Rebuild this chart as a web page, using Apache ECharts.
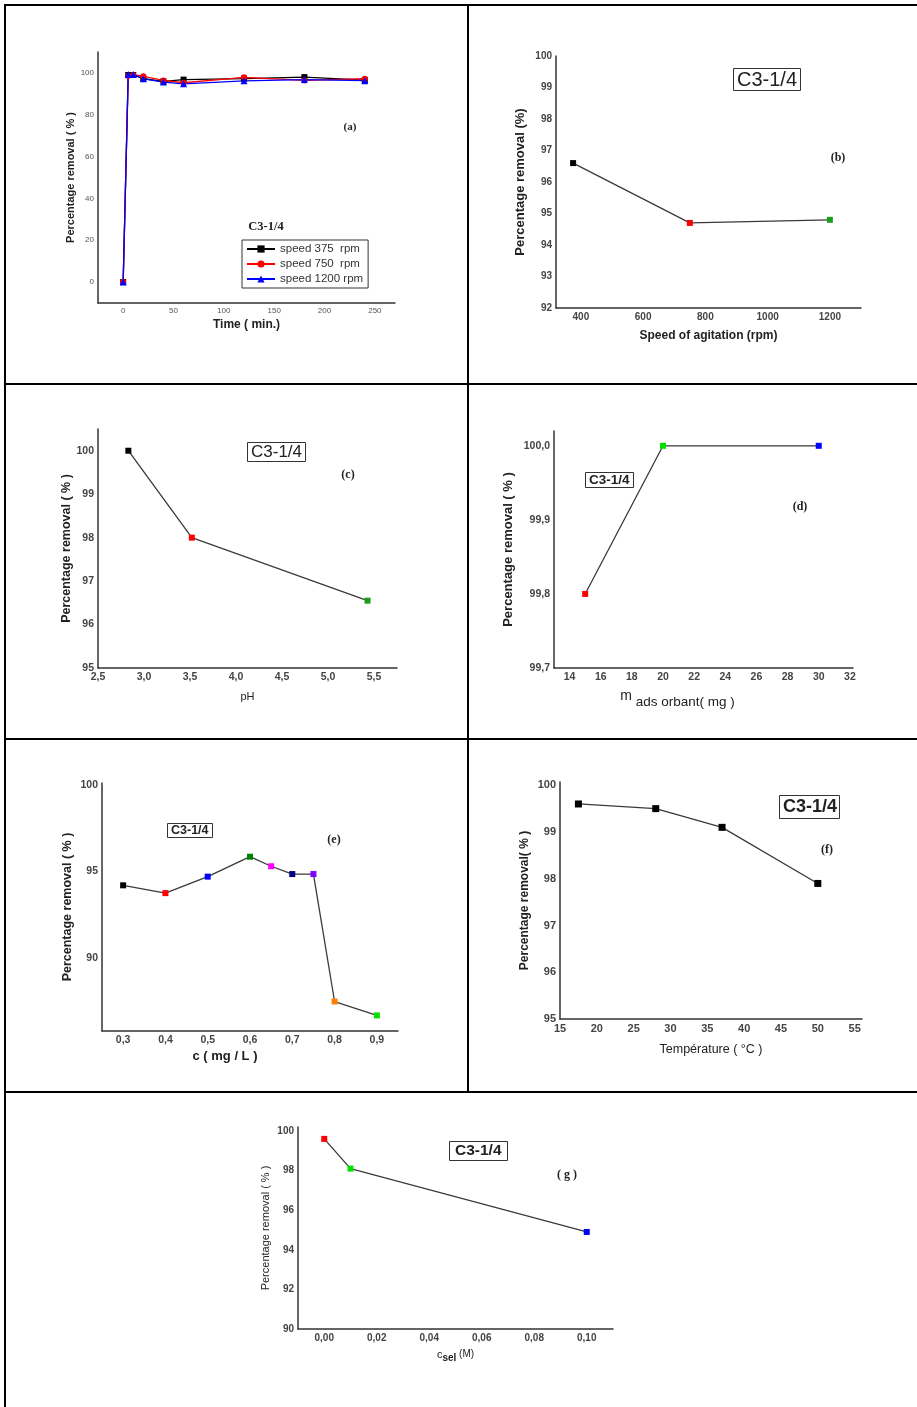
<!DOCTYPE html>
<html>
<head>
<meta charset="utf-8">
<script src="https://cdn.jsdelivr.net/npm/echarts@6/dist/echarts.min.js"></script>
<style>
  html, body { margin: 0; padding: 0; background: #fff; }
  #chart { width: 917px; height: 1407px; }
</style>
</head>
<body>
<div id="chart"></div>
<script>
// ---------- DATA ----------
// (a) contact time
const timeMin = [0, 5, 10, 20, 40, 60, 120, 180, 240];
const removal375 = [0, 99, 99, 97.3, 96, 96.8, 97.3, 98, 96.6];
const removal750 = [0, 98.5, 99, 98.4, 96.4, 95.3, 97.9, 96.4, 97.2];
const removal1200 = [0, 99.3, 99.3, 97.2, 95.6, 94.8, 96.2, 96.8, 96.3];
const speedLabels = ['speed 375  rpm', 'speed 750  rpm', 'speed 1200 rpm'];
// (b) agitation speed
const agitationRpm = [375, 750, 1200];
const removalB = [96.6, 94.7, 94.8];
// (c) pH
const phValues = [2.83, 3.52, 5.43];
const removalC = [100.0, 98.0, 96.55];
// (d) adsorbent mass
const adsorbentMg = [15, 20, 30];
const removalD = [99.8, 100.0, 100.0];
// (e) concentration
const concMgL = [0.3, 0.4, 0.5, 0.6, 0.65, 0.7, 0.75, 0.8, 0.9];
const removalE = [94.2, 93.75, 94.7, 95.85, 95.3, 94.85, 94.85, 87.5, 86.7];
// (f) temperature
const temperatureC = [17.5, 28, 37, 50];
const removalF = [99.6, 99.5, 99.1, 97.9];
// (g) salt concentration
const saltM = [0.0, 0.01, 0.10];
const removalG = [99.6, 98.1, 94.9];
// texts
const panelLabels = ['(a)', '(b)', '(c)', '(d)', '(e)', '(f)', '( g )'];
const sampleLabel = 'C3-1/4';
const yNames = ['Percentage removal ( % )', 'Percentage removal (%)', 'Percentage removal ( % )',
                'Percentage removal ( % )', 'Percentage removal ( % )', 'Percentage removal( % )',
                'Percentage removal ( % )'];

// ---------- STYLES ----------
const SANS = 'Liberation Sans, Arial, sans-serif';
const SERIF = 'Liberation Serif, Times New Roman, serif';
const colB = ['#000000', '#ff0000', '#1a9e1a'];
const colC = ['#000000', '#ff0000', '#1a9e1a'];
const colD = ['#ff0000', '#00e000', '#0000ff'];
const colE = ['#000000', '#ff0000', '#0000ff', '#008000', '#ff00ff', '#000080', '#8000ff', '#ff8000', '#00e000'];
const colF = ['#000000', '#000000', '#000000', '#000000'];
const colG = ['#ff0000', '#00e000', '#0000ff'];

function fmt(step, dec) {
  return function (v) {
    const r = v / step;
    if (Math.abs(r - Math.round(r)) > 1e-6) return '';
    return dec ? v.toFixed(dec).replace('.', ',') : String(Math.round(v));
  };
}

const grids = [
  {left: 98, top: 52, width: 297, height: 251},
  {left: 556, top: 56, width: 305, height: 252},
  {left: 98, top: 429, width: 299, height: 239},
  {left: 554, top: 431, width: 299, height: 237},
  {left: 102, top: 783, width: 296, height: 248},
  {left: 560, top: 782, width: 302, height: 237},
  {left: 298, top: 1127, width: 315, height: 202}
];

function axisBase(gi, min, max, interval, step, dec, labelSize, labelWeight, labelColor) {
  return {
    type: 'value', gridIndex: gi, min: min, max: max, interval: interval,
    axisLine: {show: true, onZero: false, lineStyle: {color: '#333', width: 1.5}},
    axisTick: {show: false},
    splitLine: {show: false},
    axisLabel: {formatter: fmt(step, dec), fontSize: labelSize, fontWeight: labelWeight,
                color: labelColor, fontFamily: SANS, margin: 4}
  };
}

function xAx(gi, min, max, interval, step, dec, lbl, name, gap, nameStyle) {
  const a = axisBase(gi, min, max, interval, step, dec, lbl[0], lbl[1], lbl[2]);
  a.position = 'bottom';
  a.name = name; a.nameLocation = 'middle'; a.nameGap = gap;
  a.nameTextStyle = Object.assign({fontFamily: SANS, color: '#222'}, nameStyle);
  return a;
}
function yAx(gi, min, max, interval, step, dec, lbl, name, gap, nameStyle) {
  const a = axisBase(gi, min, max, interval, step, dec, lbl[0], lbl[1], lbl[2]);
  a.position = 'left';
  a.name = name; a.nameLocation = 'middle'; a.nameGap = gap;
  a.nameTextStyle = Object.assign({fontFamily: SANS, color: '#222'}, nameStyle);
  return a;
}

const xAxes = [
  xAx(0, -25, 270, 25, 50, 0, [8, 'normal', '#555'], 'Time ( min.)', 16, {fontSize: 12, fontWeight: 'bold'}),
  xAx(1, 320, 1300, 40, 200, 0, [10, 'bold', '#444'], 'Speed of agitation (rpm)', 22, {fontSize: 12, fontWeight: 'bold'}),
  xAx(2, 2.5, 5.75, 0.5, 0.5, 1, [10.5, 'bold', '#444'], 'pH', 23, {fontSize: 11, fontWeight: 'normal'}),
  xAx(3, 13, 32.2, 1, 2, 0, [10.5, 'bold', '#444'],
      '{m|m }{s|ads orbant}{n|( mg )}', 21,
      {padding: [0, 52, 0, 0], rich: {
        m: {fontSize: 14, fontFamily: SANS, color: '#222', verticalAlign: 'top'},
        s: {fontSize: 13.5, fontFamily: SANS, color: '#222', verticalAlign: 'top', padding: [6, 0, 0, 0]},
        n: {fontSize: 13.5, fontFamily: SANS, color: '#222', verticalAlign: 'top', padding: [6, 0, 0, 0]}
      }}),
  xAx(4, 0.25, 0.95, 0.05, 0.1, 1, [10.5, 'bold', '#444'], 'c ( mg / L )', 19,
      {fontSize: 13, fontWeight: 'bold', padding: [0, 50, 0, 0]}),
  xAx(5, 15, 56, 5, 5, 0, [11, 'bold', '#444'], 'Température ( °C )', 24, {fontSize: 12.5, fontWeight: 'normal'}),
  xAx(6, -0.01, 0.11, 0.01, 0.02, 2, [10, 'bold', '#444'],
      '{c|c}{s|sel}{n| (M)}', 20,
      {rich: {
        c: {fontSize: 11, fontFamily: SANS, color: '#222', verticalAlign: 'top'},
        s: {fontSize: 10, fontFamily: SANS, color: '#222', fontWeight: 'bold', verticalAlign: 'top', padding: [4, 0, 0, 0]},
        n: {fontSize: 10, fontFamily: SANS, color: '#222', verticalAlign: 'top'}
      }})
];

const yAxes = [
  yAx(0, -10, 110, 10, 20, 0, [8, 'normal', '#555'], yNames[0], 20, {fontSize: 11, fontWeight: 'bold'}),
  yAx(1, 92, 100, 1, 1, 0, [10, 'bold', '#444'], yNames[1], 29, {fontSize: 13, fontWeight: 'bold'}),
  yAx(2, 95, 100.5, 1, 1, 0, [10.5, 'bold', '#444'], yNames[2], 25, {fontSize: 12.5, fontWeight: 'bold'}),
  yAx(3, 99.7, 100.02, 0.1, 0.1, 1, [10.5, 'bold', '#444'], yNames[3], 39, {fontSize: 13, fontWeight: 'bold'}),
  yAx(4, 85.8, 100.1, 0.2, 5, 0, [10.5, 'bold', '#444'], yNames[4], 28, {fontSize: 12.5, fontWeight: 'bold'}),
  yAx(5, 95, 100.07, 1, 1, 0, [11, 'bold', '#444'], yNames[5], 29, {fontSize: 12, fontWeight: 'bold'}),
  yAx(6, 90, 100.2, 2, 2, 0, [10, 'bold', '#444'], yNames[6], 27, {fontSize: 11, fontWeight: 'normal'})
];

function pts(xs, ys, cols) {
  return xs.map(function (x, i) { return {value: [x, ys[i]], itemStyle: {color: cols[i]}}; });
}
function panelSeries(gi, xs, ys, cols, size) {
  return {
    type: 'line', xAxisIndex: gi, yAxisIndex: gi, data: pts(xs, ys, cols),
    symbol: 'rect', symbolSize: size || 6, showSymbol: true,
    lineStyle: {color: '#3a3a3a', width: 1.3}, itemStyle: {color: '#333'},
    emphasis: {disabled: true}, z: 3
  };
}
function speedSeries(name, ys, color, symbol, size) {
  return {
    name: name, type: 'line', xAxisIndex: 0, yAxisIndex: 0,
    data: timeMin.map(function (t, i) { return [t, ys[i]]; }),
    symbol: symbol, symbolSize: size, lineStyle: {color: color, width: 1.3},
    itemStyle: {color: color}, emphasis: {disabled: true}
  };
}

const series = [
  speedSeries(speedLabels[0], removal375, '#000000', 'rect', 6),
  speedSeries(speedLabels[1], removal750, '#ff0000', 'circle', 6),
  speedSeries(speedLabels[2], removal1200, '#0000ff', 'triangle', 7),
  panelSeries(1, agitationRpm, removalB, colB),
  panelSeries(2, phValues, removalC, colC),
  panelSeries(3, adsorbentMg, removalD, colD),
  panelSeries(4, concMgL, removalE, colE),
  panelSeries(5, temperatureC, removalF, colF, 7),
  panelSeries(6, saltM, removalG, colG)
];

function box(left, top, size, weight, pad) {
  return {
    text: sampleLabel, left: left, top: top, padding: pad, borderWidth: 1, borderColor: '#333',
    backgroundColor: '#fff',
    textStyle: {fontSize: size, fontWeight: weight, color: '#222', fontFamily: SANS}
  };
}
const titles = [
  box(733, 68, 20, 'normal', [2, 4, 1, 4]),
  box(247, 442, 17, 'normal', [2, 4, 1, 4]),
  box(585, 472, 13.5, 'bold', [1, 4, 1, 4]),
  box(167, 823, 12.5, 'bold', [1, 4, 1, 4]),
  box(779, 795, 18, 'bold', [3, 3, 3, 4]),
  box(449, 1141, 15.5, 'bold', [2, 6, 2, 6])
];

function label(text, x, y, size) {
  return {type: 'text', x: x, y: y, z: 10,
    style: {text: text, font: 'bold ' + size + 'px ' + SERIF, fill: '#222',
            textAlign: 'center', textVerticalAlign: 'middle'}};
}
function hline(x1, x2, y) {
  return {type: 'line', shape: {x1: x1, y1: y, x2: x2, y2: y}, style: {stroke: '#000', lineWidth: 2}};
}
function vline(x, y1, y2) {
  return {type: 'line', shape: {x1: x, y1: y1, x2: x, y2: y2}, style: {stroke: '#000', lineWidth: 2}};
}

const graphics = [
  hline(4, 917, 5), hline(5, 917, 384), hline(5, 917, 739), hline(5, 917, 1092),
  vline(5, 4, 1407), vline(468, 4, 1092),
  label(panelLabels[0], 350, 127, 11),
  label(panelLabels[1], 838, 158, 12),
  label(panelLabels[2], 348, 475, 12),
  label(panelLabels[3], 800, 507, 12),
  label(panelLabels[4], 334, 840, 12),
  label(panelLabels[5], 827, 850, 12),
  label(panelLabels[6], 567, 1175, 12),
  label(sampleLabel, 266, 227, 12.5)
];

const option = {
  animation: false,
  backgroundColor: '#fff',
  grid: grids,
  xAxis: xAxes,
  yAxis: yAxes,
  series: series,
  title: titles,
  graphic: graphics,
  legend: {
    data: speedLabels, orient: 'vertical', left: 242, top: 240,
    padding: [3, 5, 3, 4], itemGap: 3, itemWidth: 28, itemHeight: 9,
    borderColor: '#333', borderWidth: 1, backgroundColor: '#fff',
    textStyle: {fontSize: 11.5, color: '#333', fontFamily: SANS},
    selectedMode: false
  }
};

const chart = echarts.init(document.getElementById('chart'), null, {renderer: 'canvas'});
chart.setOption(option);
</script>
</body>
</html>
